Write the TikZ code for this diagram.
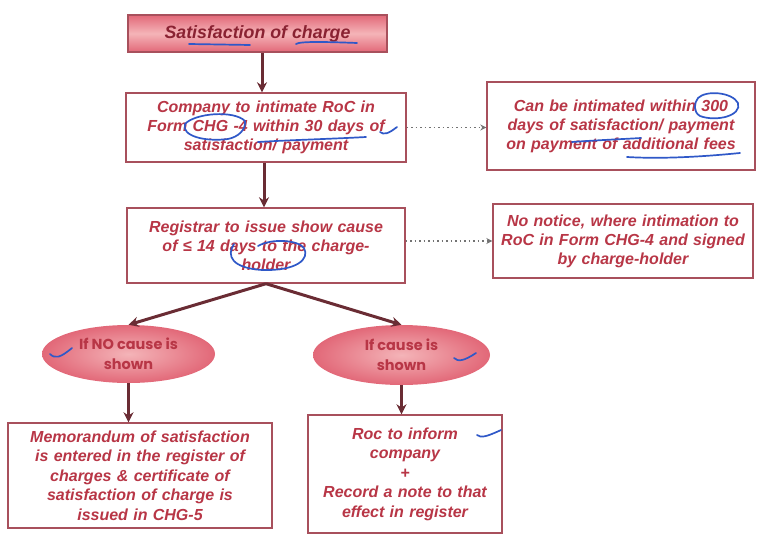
\documentclass[tikz,border=0pt]{standalone}
\usepackage{fontspec}
\setmainfont{Liberation Sans}
\newfontfamily\geofont{Poppins}
\usetikzlibrary{arrows.meta,shapes.geometric}
\definecolor{boxline}{HTML}{A8505C}
\definecolor{txtred}{HTML}{B83646}
\definecolor{toptxt}{HTML}{8A2232}
\definecolor{arrowc}{HTML}{6A2C34}
\definecolor{pen}{HTML}{2F58C8}
\definecolor{pinkA}{HTML}{E26878}
\definecolor{pinkB}{HTML}{F4B4B8}
\tikzset{
  flowbox/.style={draw=boxline, line width=1.4pt, fill=white, align=center,
    inner sep=2pt, text=txtred, font=\fontsize{16}{19}\selectfont\bfseries\itshape},
  titlebox/.style={draw=boxline, line width=1.4pt, align=center,
    top color=pinkA, bottom color=pinkA, middle color=pinkB,
    text=toptxt, font=\fontsize{17.8}{20}\selectfont\bfseries\itshape},
  decision/.style={ellipse, draw=none, inner color=pinkB, outer color=pinkA,
    align=center, inner sep=0pt, text=txtred,
    font=\geofont\fontsize{14.5}{20}\selectfont\bfseries},
  flowarrow/.style={draw=arrowc, line width=3pt, -{Stealth[length=10pt,width=10pt]}},
  notearrow/.style={draw=black!55, line width=1.2pt, dash pattern=on 1.5pt off 3pt,
    -{Stealth[length=6pt,width=6pt]}},
  penmark/.style={draw=pen, line width=1.7pt, line cap=round}
}
\begin{document}
\begin{tikzpicture}[x=1pt,y=-1pt]
\useasboundingbox (0,0) rectangle (759,540);

% main column
\node[titlebox, minimum width=259pt, minimum height=37pt] (title) at (257.5,33.5)
  {Satisfaction of charge};
\node[flowbox, minimum width=280pt, minimum height=69pt, text width=272pt] (intimate) at (266,127.5)
  {Company to intimate RoC in\\Form CHG -4 within 30 days of\\satisfaction/ payment};
\node[flowbox, minimum width=278pt, minimum height=75pt, text width=270pt] (showcause) at (266,245.5)
  {Registrar to issue show cause\\of ≤ 14 days to the charge-\\holder};

% side notes
\node[flowbox, minimum width=268pt, minimum height=88pt, text width=260pt] (latenote) at (621,126)
  {Can be intimated within 300\\days of satisfaction/ payment\\on payment of additional fees};
\node[flowbox, minimum width=260pt, minimum height=74pt, text width=252pt] (nonotice) at (623,241)
  {No notice, where intimation to\\RoC in Form CHG-4 and signed\\by charge-holder};

% decisions
\node[decision, minimum width=173pt, minimum height=58pt] (nocause) at (128.5,354)
  {If NO cause is\\shown};
\node[decision, minimum width=177pt, minimum height=60pt] (cause) at (401.5,355)
  {If cause is\\shown};

% outcomes
\node[flowbox, minimum width=264pt, minimum height=105pt, text width=258pt,
      font=\fontsize{16}{19.5}\selectfont\bfseries\itshape] (memo) at (140,475.5)
  {Memorandum of satisfaction\\is entered in the register of\\charges \& certificate of\\satisfaction of charge is\\issued in CHG-5};
\node[flowbox, minimum width=194pt, minimum height=118pt, text width=188pt,
      font=\fontsize{16}{19.5}\selectfont\bfseries\itshape] (inform) at (405,474)
  {Roc to inform\\company\\+\\Record a note to that\\effect in register};

% connectors
\draw[flowarrow] (title.south -| 262,0) -- (262,0 |- intimate.north);
\draw[flowarrow] (intimate.south -| 264,0) -- (264,0 |- showcause.north);
\draw[flowarrow] (showcause.south) -- (nocause.north);
\draw[flowarrow] (showcause.south) -- (cause.north);
\draw[flowarrow] (nocause.south) -- (nocause.south |- memo.north);
\draw[flowarrow] (cause.south) -- (cause.south |- inform.north);
\draw[notearrow] (intimate.east) -- (intimate.east -| latenote.west);
\draw[notearrow] (showcause.east |- nonotice.west) -- (nonotice.west);

% pen annotations
\draw[penmark] (189,44) -- (250,45);
\draw[penmark] (296,44) .. controls (300,41) and (330,42) .. (357,43);
\draw[penmark] (380,132) .. controls (384,135) and (388,134) .. (397,127);
\draw[penmark] (245,121) .. controls (234,110) and (195,113) .. (185,124)
  .. controls (181,136) and (205,142) .. (228,139) .. controls (238,137) and (246,130) .. (245,121);
\draw[penmark] (258,142) .. controls (290,140) and (330,139) .. (366,137);
\draw[penmark] (698,98) .. controls (706,90) and (732,92) .. (738,103)
  .. controls (742,116) and (716,122) .. (700,116) .. controls (693,112) and (694,103) .. (698,98);
\draw[penmark] (572,142) .. controls (600,140) and (625,139) .. (641,138);
\draw[penmark] (627,157) .. controls (660,159) and (700,157) .. (740,153);
\draw[penmark] (234,244) .. controls (226,256) and (232,268) .. (262,270)
  .. controls (297,271) and (310,259) .. (304,248) .. controls (298,240) and (272,238) .. (258,246);
\draw[penmark] (50,354) .. controls (55,359) and (60,358) .. (72,348);
\draw[penmark] (454,358) .. controls (458,362) and (464,361) .. (476,353);
\draw[penmark] (477,435) .. controls (481,438) and (486,437) .. (501,430);
\end{tikzpicture}
\end{document}
